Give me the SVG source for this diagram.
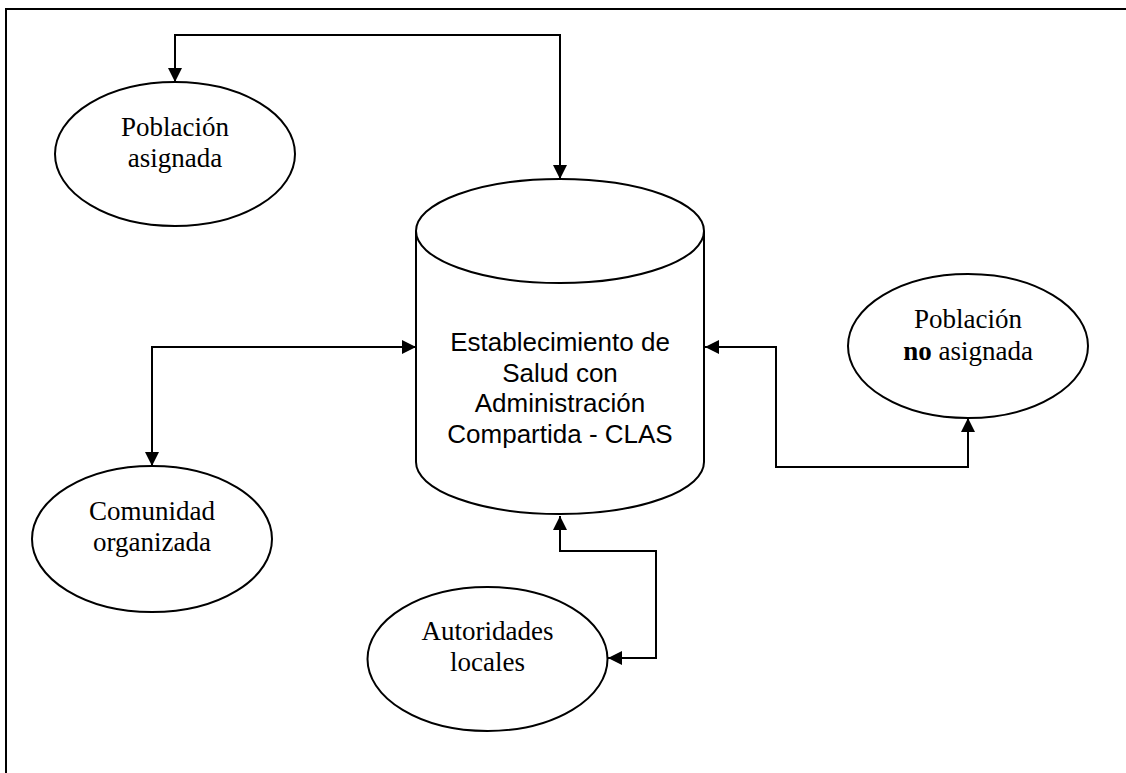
<svg xmlns="http://www.w3.org/2000/svg" width="1126" height="773" viewBox="0 0 1126 773">
<style>
.shape{fill:#fff;stroke:#000;stroke-width:2}
.conn{fill:none;stroke:#000;stroke-width:2}
.ts{font-family:"Liberation Serif","Times New Roman",serif;font-size:27px;fill:#000;text-anchor:middle}
.ta{font-family:"Liberation Sans",Arial,sans-serif;font-size:26px;fill:#000;text-anchor:middle}
</style>
<defs>
<marker id="arr" viewBox="0 0 14 14" refX="14" refY="7" markerWidth="14" markerHeight="14" markerUnits="userSpaceOnUse" orient="auto-start-reverse">
<path d="M0,0 L14,7 L0,14 z" fill="#000"/>
</marker>
</defs>
<rect x="0" y="0" width="1126" height="773" fill="#fff"/>
<rect id="frame" x="6" y="9" width="1140" height="790" fill="none" stroke="#000" stroke-width="2"/>
<g id="connectors">
<path class="conn" d="M175,82 L175,35 L560,35 L560,179" marker-start="url(#arr)" marker-end="url(#arr)"/>
<path class="conn" d="M152,466 L152,347 L416,347" marker-start="url(#arr)" marker-end="url(#arr)"/>
<path class="conn" d="M705,347 L776,347 L776,467 L968,467 L968,418" marker-start="url(#arr)" marker-end="url(#arr)"/>
<path class="conn" d="M560,516 L560,551 L656,551 L656,658 L608,658" marker-start="url(#arr)" marker-end="url(#arr)"/>
</g>
<g id="poblacion-asignada">
<ellipse class="shape" cx="175" cy="154" rx="120" ry="72"/>
<text class="ts" x="175" y="136">Población</text>
<text class="ts" x="175" y="167">asignada</text>
</g>
<g id="clas">
<path class="shape" d="M416,231 L416,462 A144,52 0 0 0 704,462 L704,231"/>
<ellipse class="shape" cx="560" cy="231" rx="144" ry="52"/>
<text class="ta" x="560" y="351">Establecimiento de</text>
<text class="ta" x="560" y="382">Salud con</text>
<text class="ta" x="560" y="412">Administración</text>
<text class="ta" x="560" y="443">Compartida - CLAS</text>
</g>
<g id="poblacion-no-asignada">
<ellipse class="shape" cx="968" cy="346" rx="120" ry="72"/>
<text class="ts" x="968" y="328">Población</text>
<text class="ts" x="968" y="360"><tspan font-weight="bold">no</tspan> asignada</text>
</g>
<g id="comunidad">
<ellipse class="shape" cx="152" cy="539" rx="120" ry="73"/>
<text class="ts" x="152" y="520">Comunidad</text>
<text class="ts" x="152" y="551">organizada</text>
</g>
<g id="autoridades">
<ellipse class="shape" cx="487.5" cy="659" rx="120" ry="72"/>
<text class="ts" x="487.5" y="640">Autoridades</text>
<text class="ts" x="487.5" y="671">locales</text>
</g>
</svg>
